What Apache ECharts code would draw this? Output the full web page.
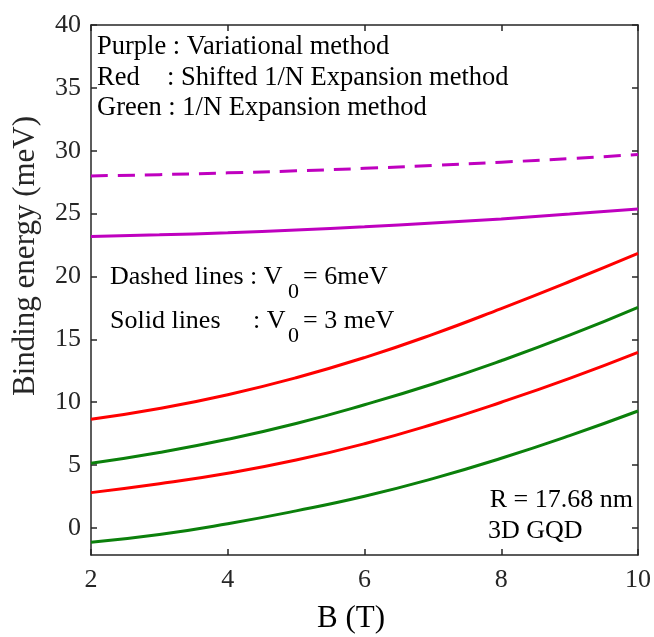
<!DOCTYPE html>
<html>
<head>
<meta charset="utf-8">
<script src="https://cdn.jsdelivr.net/npm/echarts@6/dist/echarts.min.js"></script>
<style>
html,body{margin:0;padding:0;background:#fff;}
#chart{width:654px;height:637px;}
</style>
</head>
<body>
<div id="chart"></div>
<script>
// Data
var bField = [2, 3, 4, 5, 6, 7, 8, 9, 10];
var purpleDashed = [28.0, 28.1, 28.24, 28.4, 28.6, 28.83, 29.09, 29.37, 29.7];
var purpleSolid  = [23.17, 23.31, 23.48, 23.7, 23.95, 24.25, 24.58, 24.96, 25.37];
var redUpper     = [8.64, 9.5, 10.6, 11.95, 13.55, 15.4, 17.45, 19.6, 21.84];
var greenUpper   = [5.14, 6.0, 7.05, 8.31, 9.8, 11.45, 13.3, 15.33, 17.55];
var redLower     = [2.81, 3.51, 4.35, 5.4, 6.7, 8.25, 10.0, 11.9, 13.97];
var greenLower   = [-1.14, -0.52, 0.34, 1.36, 2.52, 3.92, 5.54, 7.34, 9.3];
var yTicks = [0, 5, 10, 15, 20, 25, 30, 35, 40];

function pairs(ys){ return bField.map(function(b,i){ return [b, ys[i]]; }); }

var FONT = 'Liberation Serif';
var AXIS_COLOR = '#262626';
var PURPLE = '#BF00BF', RED = '#FF0000', GREEN = '#0B800B';

var chart = echarts.init(document.getElementById('chart'));

function xAx(pos, labels){
  return {
    type: 'value', position: pos, min: 2, max: 10, interval: 2,
    axisLine: {show: true, onZero: false, lineStyle: {color: AXIS_COLOR, width: 1.5}},
    axisTick: {show: true, inside: true, length: 6, lineStyle: {color: AXIS_COLOR, width: 1.5}},
    axisLabel: {show: labels, margin: 12, color: AXIS_COLOR, fontFamily: FONT, fontSize: 26},
    splitLine: {show: false}
  };
}
function yAx(pos, labels){
  return {
    type: 'value', position: pos, min: -2.15, max: 40,
    axisLine: {show: true, onZero: false, lineStyle: {color: AXIS_COLOR, width: 1.5}},
    axisTick: {show: true, inside: true, length: 6, customValues: yTicks, lineStyle: {color: AXIS_COLOR, width: 1.5}},
    axisLabel: {show: labels, margin: 10, customValues: yTicks, color: AXIS_COLOR, fontFamily: FONT, fontSize: 26},
    splitLine: {show: false}
  };
}

function line(data, color, dashed){
  return {
    type: 'line', data: pairs(data), smooth: 0.5, showSymbol: false, symbol: 'none',
    xAxisIndex: 0, yAxisIndex: 0,
    lineStyle: {color: color, width: 3, type: dashed ? [17, 10] : 'solid'},
    animation: false
  };
}

var txt = {fontFamily: FONT, fontSize: 26, fill: '#000'};
function T(x, y, s, extra){
  var st = Object.assign({text: s, x: x, y: y, textVerticalAlign: 'middle'}, txt, extra || {});
  return {type: 'text', style: st, z: 10};
}

var option = {
  animation: false,
  backgroundColor: '#fff',
  grid: {left: 91, right: 15, top: 25, bottom: 82, containLabel: false},
  xAxis: [xAx('bottom', true), xAx('top', false)],
  yAxis: [yAx('left', true), yAx('right', false)],
  series: [
    line(purpleDashed, PURPLE, true),
    line(purpleSolid, PURPLE, false),
    line(redUpper, RED, false),
    line(greenUpper, GREEN, false),
    line(redLower, RED, false),
    line(greenLower, GREEN, false)
  ],
  graphic: [
    T(97, 47, 'Purple : Variational method', {fontSize: 26.5}),
    T(97, 78, 'Red', {fontSize: 26.5}),
    T(167, 78, ': Shifted 1/N Expansion method', {fontSize: 26.5}),
    T(97, 108, 'Green : 1/N Expansion method', {fontSize: 26.5}),
    T(110, 277, 'Dashed lines : V'),
    T(288, 292, '0', {fontSize: 22}),
    T(303, 277, '= 6meV'),
    T(110, 321, 'Solid lines'),
    T(253, 321, ': V'),
    T(288, 336, '0', {fontSize: 22}),
    T(303, 321, '= 3 meV'),
    T(633, 500, 'R = 17.68 nm', {textAlign: 'right'}),
    T(488, 531, '3D GQD'),
    T(351, 619, 'B (T)', {textAlign: 'center', fontSize: 31}),
    {type: 'text', x: 26, y: 256, rotation: Math.PI/2,
     style: {text: 'Binding energy (meV)', fontFamily: FONT, fontSize: 31, fill: AXIS_COLOR, textAlign: 'center', textVerticalAlign: 'middle'}, z: 10}
  ]
};
chart.setOption(option);
</script>
</body>
</html>
